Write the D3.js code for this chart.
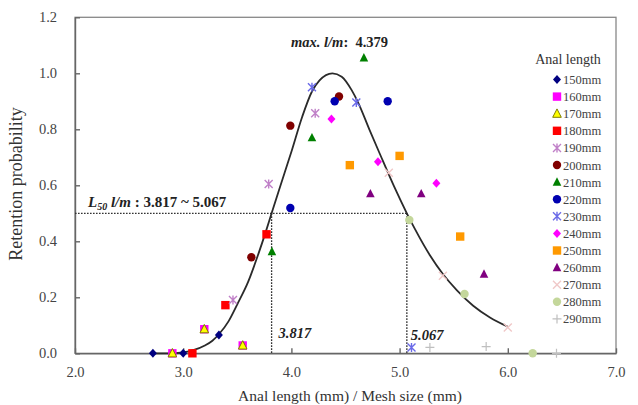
<!DOCTYPE html>
<html>
<head>
<meta charset="utf-8">
<script src="https://cdn.jsdelivr.net/npm/d3@7"></script>
<style>
  body { margin: 0; background: #fff; }
  svg { font-family: "Liberation Serif", "Times New Roman", serif; }
  .axis path, .axis line { stroke: #666; stroke-width: 1.4; }
  .axis text { fill: #444; font-size: 14.5px; font-family: "Liberation Serif", serif; }
</style>
</head>
<body>
<svg width="638" height="405"></svg>
<script>
// anal length classes shown in legend
const lengths = ['150mm', '160mm', '170mm', '180mm', '190mm', '200mm', '210mm', '220mm',
                 '230mm', '240mm', '250mm', '260mm', '270mm', '280mm', '290mm'];

// anal length / mesh size, per class
const ratioX = [
  [2.72, 3.00, 3.33],
  [2.90, 3.195, 3.55],
  [2.90, 3.195, 3.55],
  [3.085, 3.39, 3.77],
  [3.46, 3.79, 4.22],
  [3.63, 3.99, 4.44],
  [3.82, 4.19, 4.67],
  [3.99, 4.40, 4.89],
  [4.19, 4.60, 5.11],
  [4.37, 4.80, 5.34],
  [4.54, 5.00, 5.56],
  [4.73, 5.20, 5.78],
  [4.90, 5.40, 6.00],
  [5.09, 5.60, 6.23],
  [5.28, 5.80, 6.45]
];
// retention probability, per class
const retention = [
  [0.0, 0.0, 0.065],
  [0.0, 0.086, 0.028],
  [0.0, 0.086, 0.028],
  [0.0, 0.172, 0.425],
  [0.19, 0.605, 0.857],
  [0.343, 0.813, 0.917],
  [0.363, 0.77, 1.055],
  [0.519, 0.90, 0.90],
  [0.95, 0.896, 0.021],
  [0.837, 0.684, 0.607],
  [0.672, 0.705, 0.417],
  [0.57, 0.57, 0.283],
  [0.645, 0.277, 0.092],
  [0.476, 0.212, 0.0],
  [0.021, 0.024, 0.0]
];

// fitted selection curve
const curveX = [2.70, 2.90, 3.00, 3.10, 3.20, 3.27, 3.33, 3.42, 3.50, 3.60, 3.695, 3.76, 3.817,
                3.90, 4.00, 4.10, 4.19, 4.26, 4.379, 4.465, 4.557, 4.62, 4.72, 4.82, 4.95,
                5.067, 5.14, 5.28, 5.40, 5.53, 5.68, 5.835, 6.00];
const curveY = [0, 0, 0.003, 0.012, 0.028, 0.045, 0.068, 0.115, 0.175, 0.255, 0.355, 0.43, 0.50,
                0.60, 0.72, 0.845, 0.935, 0.975, 1.0, 0.988, 0.94, 0.893, 0.80, 0.71, 0.595,
                0.50, 0.445, 0.35, 0.283, 0.225, 0.17, 0.128, 0.095];

const xTicks = [2, 3, 4, 5, 6, 7];
const yTicks = [0, 0.2, 0.4, 0.6, 0.8, 1.0, 1.2];
const L50 = [3.817, 5.067];
const maxLm = 4.379;

const markers = [
  {shape: 'diamond', fill: '#000080'},
  {shape: 'square', fill: '#ff00ff'},
  {shape: 'triangle', fill: '#ffff00', stroke: '#7f7f00'},
  {shape: 'square', fill: '#ff0000'},
  {shape: 'star', stroke: '#c080c8'},
  {shape: 'circle', fill: '#800000'},
  {shape: 'triangle', fill: '#008000'},
  {shape: 'circle', fill: '#0000b0'},
  {shape: 'star', stroke: '#6a6ae8'},
  {shape: 'diamond', fill: '#ff00ff'},
  {shape: 'square', fill: '#ff9900'},
  {shape: 'triangle', fill: '#800080'},
  {shape: 'xmark', stroke: '#f0c8c8'},
  {shape: 'circle', fill: '#c4d79b'},
  {shape: 'plus', stroke: '#bfbfbf'}
];

const svg = d3.select('svg');
const x = d3.scaleLinear().domain([2, 7]).range([75, 616]);
const y = d3.scaleLinear().domain([0, 1.2]).range([353.3, 17.3]);

// frame
svg.append('rect')
    .attr('x', 75).attr('y', y(1.2))
    .attr('width', 616 - 75).attr('height', y(0) - y(1.2))
    .attr('fill', 'none').attr('stroke', '#888').attr('stroke-width', 1.3);

svg.append('g').attr('class', 'axis')
    .attr('transform', `translate(0,${y(0)})`)
    .call(d3.axisBottom(x).tickValues(xTicks).tickFormat(d3.format('.1f'))
        .tickSizeInner(-5).tickSizeOuter(0).tickPadding(13));

svg.append('g').attr('class', 'axis')
    .attr('transform', 'translate(75,0)')
    .call(d3.axisLeft(y).tickValues(yTicks).tickFormat(d3.format('.1f'))
        .tickSizeInner(-5).tickSizeOuter(0).tickPadding(18));

// L50 guide lines
const dotted = '1.6,1.4';
svg.append('path')
    .attr('d', `M${x(2)},${y(0.5)}H${x(L50[1])}`)
    .attr('stroke', '#333').attr('stroke-width', 1.3).attr('stroke-dasharray', dotted);
L50.forEach(v => {
  svg.append('path')
      .attr('d', `M${x(v)},${y(0.5)}V${y(0)}`)
      .attr('stroke', '#333').attr('stroke-width', 1.3).attr('stroke-dasharray', dotted);
});

// fitted curve
const line = d3.line().x(d => x(d[0])).y(d => y(d[1])).curve(d3.curveMonotoneX);
svg.append('path')
    .attr('d', line(curveX.map((v, i) => [v, curveY[i]])))
    .attr('fill', 'none').attr('stroke', '#2a2a2a').attr('stroke-width', 1.8);

function drawMarker(g, m, cx, cy) {
  const s = 4;
  if (m.shape === 'circle') {
    g.append('circle').attr('cx', cx).attr('cy', cy).attr('r', 4.2).attr('fill', m.fill);
  } else if (m.shape === 'square') {
    g.append('rect').attr('x', cx - 4.2).attr('y', cy - 4.2).attr('width', 8.4).attr('height', 8.4)
        .attr('fill', m.fill);
  } else if (m.shape === 'diamond') {
    g.append('path').attr('d', `M${cx},${cy - 4.5}L${cx + 4},${cy}L${cx},${cy + 4.5}L${cx - 4},${cy}Z`)
        .attr('fill', m.fill);
  } else if (m.shape === 'triangle') {
    g.append('path').attr('d', `M${cx},${cy - 4.8}L${cx + 4.3},${cy + 3.6}L${cx - 4.3},${cy + 3.6}Z`)
        .attr('fill', m.fill).attr('stroke', m.stroke || 'none').attr('stroke-width', 1);
  } else if (m.shape === 'star') {
    g.append('path')
        .attr('d', `M${cx - s},${cy - s}L${cx + s},${cy + s}M${cx + s},${cy - s}L${cx - s},${cy + s}M${cx},${cy - s - 0.5}V${cy + s + 0.5}`)
        .attr('stroke', m.stroke).attr('stroke-width', 1.4).attr('fill', 'none');
  } else if (m.shape === 'xmark') {
    g.append('path')
        .attr('d', `M${cx - s},${cy - s}L${cx + s},${cy + s}M${cx + s},${cy - s}L${cx - s},${cy + s}`)
        .attr('stroke', m.stroke).attr('stroke-width', 1.4).attr('fill', 'none');
  } else if (m.shape === 'plus') {
    g.append('path')
        .attr('d', `M${cx - 4.5},${cy}H${cx + 4.5}M${cx},${cy - 4.5}V${cy + 4.5}`)
        .attr('stroke', m.stroke).attr('stroke-width', 1.2).attr('fill', 'none');
  }
}

// scatter points
const pts = svg.append('g');
lengths.forEach((name, i) => {
  ratioX[i].forEach((v, j) => drawMarker(pts, markers[i], x(v), y(retention[i][j])));
});

// legend
const leg = svg.append('g');
leg.append('text').attr('x', 568).attr('y', 64).attr('text-anchor', 'middle')
    .attr('font-size', 14).attr('fill', '#333').text('Anal length');
lengths.forEach((name, i) => {
  const ly = 79.5 + i * 17.1;
  drawMarker(leg, markers[i], 557, ly);
  leg.append('text').attr('x', 563).attr('y', ly + 4.5)
      .attr('font-size', 12.5).attr('fill', '#444').text(name);
});

// annotations
const t1 = svg.append('text').attr('x', 291).attr('y', 47).attr('font-size', 14.5)
    .attr('font-weight', 'bold').attr('fill', '#222');
t1.append('tspan').attr('font-style', 'italic').text('max. l/m');
t1.append('tspan').attr('xml:space', 'preserve').text(':  ' + maxLm.toFixed(3));

const t2 = svg.append('text').attr('x', 88).attr('y', 207).attr('font-size', 15)
    .attr('font-weight', 'bold').attr('fill', '#222');
t2.append('tspan').attr('font-style', 'italic').text('L');
t2.append('tspan').attr('font-style', 'italic').attr('font-size', 10).attr('dy', 3).text('50');
t2.append('tspan').attr('font-style', 'italic').attr('dy', -3).text(' l/m');
t2.append('tspan').text(' : ' + L50[0].toFixed(3) + ' ~ ' + L50[1].toFixed(3));

svg.append('text').attr('x', x(L50[0]) + 7).attr('y', 338).attr('font-size', 14.5)
    .attr('font-weight', 'bold').attr('font-style', 'italic').attr('fill', '#222')
    .text(L50[0].toFixed(3));
svg.append('text').attr('x', x(L50[1]) + 4).attr('y', 340).attr('font-size', 14.5)
    .attr('font-weight', 'bold').attr('font-style', 'italic').attr('fill', '#222')
    .text(L50[1].toFixed(3));

// axis titles
svg.append('text').attr('transform', 'translate(22,184) rotate(-90)')
    .attr('text-anchor', 'middle').attr('font-size', 18).attr('fill', '#333')
    .text('Retention probability');
svg.append('text').attr('x', 350).attr('y', 401).attr('text-anchor', 'middle')
    .attr('font-size', 15.5).attr('fill', '#333')
    .text('Anal length (mm) / Mesh size (mm)');
</script>
</body>
</html>
